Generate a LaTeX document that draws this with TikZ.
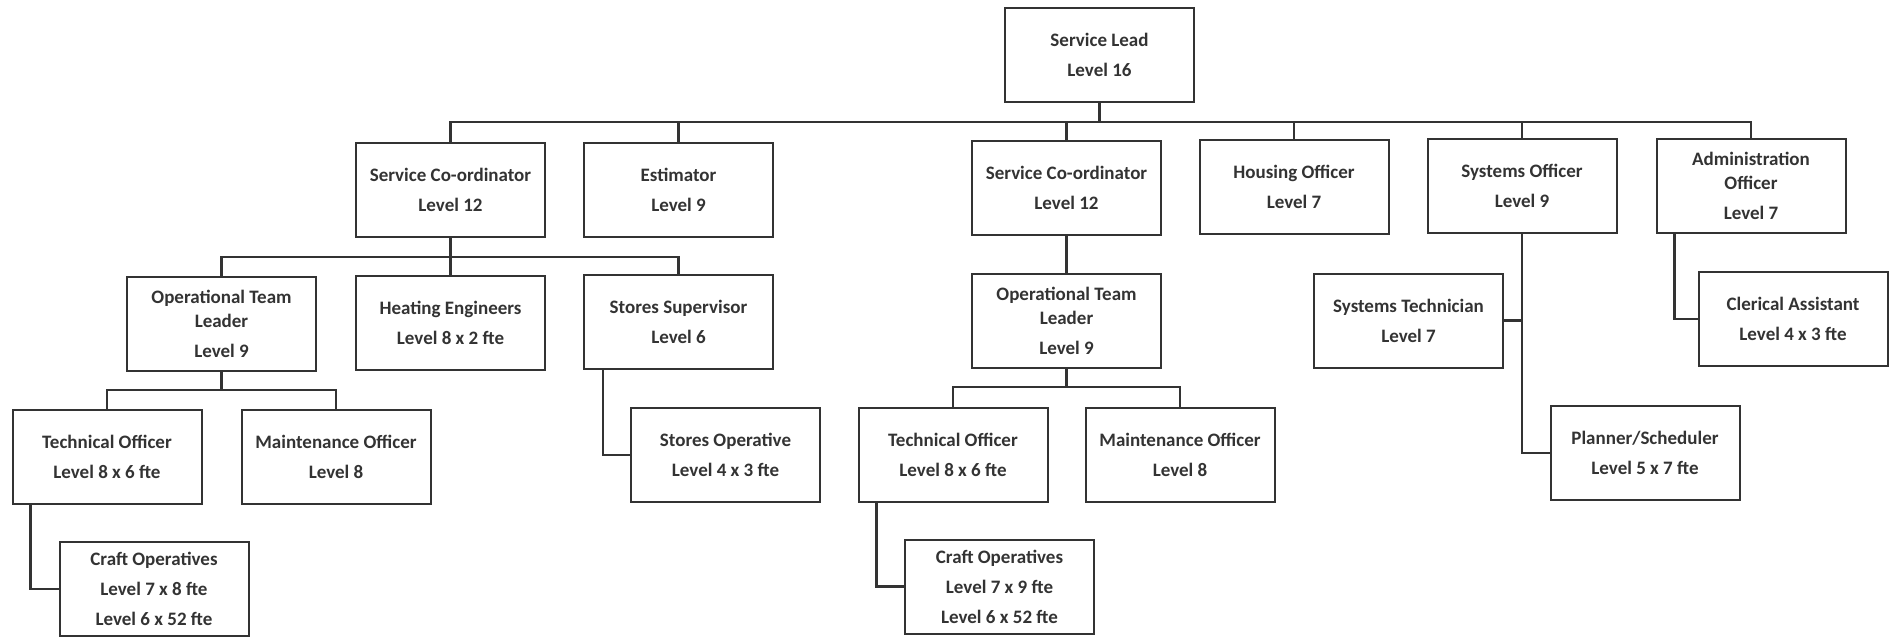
\documentclass[tikz,border=0pt]{standalone}
\usepackage{fontspec}
\setmainfont{Carlito}
\definecolor{ink}{HTML}{333333}
\tikzstyle{post} = [rectangle, minimum width=94.5pt, minimum height=47pt, inner sep=0pt, align=center, draw=ink, line width=1pt, text=ink, font=\bfseries\fontsize{9.5}{15}\selectfont]
\tikzstyle{link} = [line width=1.2pt, draw=ink]

\begin{document}
\begin{tikzpicture}[x=0.5pt, y=-0.5pt]
		\useasboundingbox (0,0) rectangle (1891,637);
		\node (lead) [post] at (1099.5,54.5) {Service Lead\\Level 16};

		\node (coa) [post] at (450.5,190) {Service Co-ordinator\\Level 12};
		\node (est) [post] at (678.5,190) {Estimator\\Level 9};
		\node (cob) [post] at (1066.5,188) {Service Co-ordinator\\Level 12};
		\node (hou) [post] at (1294,187) {Housing Officer\\Level 7};
		\node (sys) [post] at (1522,186) {Systems Officer\\Level 9};
		\node (adm) [post] at (1751,186) {Administration\\[-3pt]Officer\\Level 7};

		\node (otla) [post] at (221.5,324) {Operational Team\\[-3pt]Leader\\Level 9};
		\node (hea) [post] at (450.5,323) {Heating Engineers\\Level 8 x 2 fte};
		\node (sup) [post] at (678.5,322) {Stores Supervisor\\Level 6};
		\node (otlb) [post] at (1066.5,321) {Operational Team\\[-3pt]Leader\\Level 9};
		\node (syt) [post] at (1408.5,320.5) {Systems Technician\\Level 7};
		\node (cle) [post] at (1793,319) {Clerical Assistant\\Level 4 x 3 fte};

		\node (teca) [post] at (107,457) {Technical Officer\\Level 8 x 6 fte};
		\node (maia) [post] at (336,457) {Maintenance Officer\\Level 8};
		\node (sto) [post] at (725.5,455) {Stores Operative\\Level 4 x 3 fte};
		\node (tecb) [post] at (953,455) {Technical Officer\\Level 8 x 6 fte};
		\node (maib) [post] at (1180,455) {Maintenance Officer\\Level 8};
		\node (pla) [post] at (1645,453) {Planner/Scheduler\\Level 5 x 7 fte};

		\node (cra) [post] at (154,589) {Craft Operatives\\Level 7 x 8 fte\\Level 6 x 52 fte};
		\node (crb) [post] at (999.5,586.5) {Craft Operatives\\Level 7 x 9 fte\\Level 6 x 52 fte};

		\coordinate (bus) at (0,122);
		\coordinate (busa) at (0,257);
		\coordinate (busb) at (0,390);
		\coordinate (busc) at (0,387);

		\draw [link] (lead) -- (lead |- bus);
		\draw [link] (coa.north) -- (coa.north |- bus) -- (adm.north |- bus) -- (adm.north);
		\foreach \n in {est, cob, hou, sys}
			\draw [link] (\n.north) -- (\n.north |- bus);

		\draw [link] (coa) -- (hea);
		\draw [link] (otla.north) -- (otla.north |- busa) -- (sup.north |- busa) -- (sup.north);
		\draw [link] (cob) -- (otlb);

		\draw [link] (otla) -- (otla |- busb);
		\draw [link] (teca.north) -- (teca.north |- busb) -- (maia.north |- busb) -- (maia.north);
		\draw [link] (otlb) -- (otlb |- busc);
		\draw [link] (tecb.north) -- (tecb.north |- busc) -- (maib.north |- busc) -- (maib.north);

		\draw [link] ([xshift=9.5pt]teca.south west) |- (cra.west);
		\draw [link] ([xshift=10pt]sup.south west) |- (sto.west);
		\draw [link] ([xshift=9.5pt]tecb.south west) |- (crb.west);
		\draw [link] ([xshift=9.5pt]adm.south west) |- (cle.west);
		\draw [link] (sys.south) |- (pla.west);
		\draw [link] (syt.east) -- (syt.east -| sys.south);
	  \end{tikzpicture}
\end{document}
